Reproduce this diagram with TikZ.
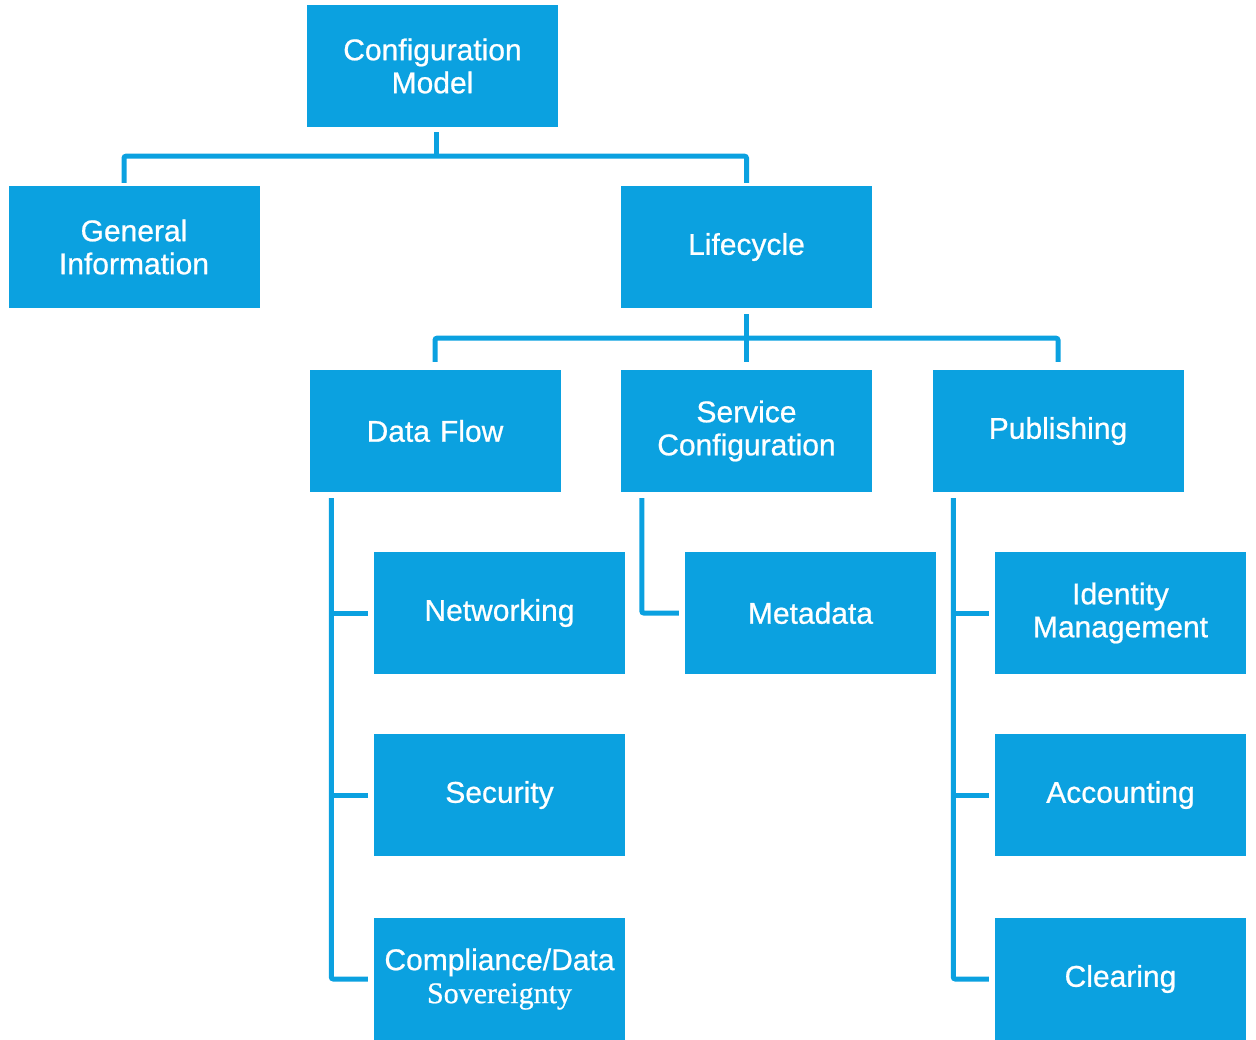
\documentclass[tikz,border=0pt]{standalone}
\usepackage{fontspec}
\setmainfont{Liberation Sans}[FakeBold=0.7]
\newfontfamily\serifsov{Liberation Serif}[FakeBold=0.7]
\definecolor{boxblue}{RGB}{11,161,224}
\begin{document}
\begin{tikzpicture}[x=1pt,y=-1pt,
  box/.style={fill=boxblue, draw=none, minimum width=251pt, minimum height=122pt,
    inner sep=0pt, align=center, text=white, text width=245pt,
    font=\fontsize{30}{33}\selectfont},
  conn/.style={draw=boxblue, line width=5pt, rounded corners=2pt, line cap=butt}]
\useasboundingbox (0,0) rectangle (1256,1040);
\begin{scope}
\clip (0,0) rectangle (1256,1040);
\node[box] (cm) at (432.5,66) {Configuration\\Model};
\node[box] (gi) at (134,247) {General\\Information};
\node[box] (lc) at (746.5,247) {Lifecycle};
\node[box] (df) at (435,431) {Data Flow};
\node[box] (sc) at (746.5,431) {Service\\Configuration};
\node[box] (pb) at (1058,431) {Publishing};
\node[box] (nw) at (499.5,613) {Networking};
\node[box] (se) at (499.5,795) {Security};
\node[box] (cp) at (499.5,979) {Compliance/Data\\{\serifsov Sovereignty}};
\node[box] (md) at (810.5,613) {Metadata};
\node[box] (im) at (1120.5,613) {Identity\\Management};
\node[box] (ac) at (1120.5,795) {Accounting};
\node[box] (cl) at (1120.5,979) {Clearing};
\end{scope}
% level 1
\coordinate (cmj) at ([xshift=3.5pt,yshift=-29pt]cm.south);
\draw[conn] ([xshift=3.5pt,yshift=-5pt]cm.south) -- (cmj);
\draw[conn] ([xshift=-10pt,yshift=3pt]gi.north) |- (cmj) -| ([yshift=3pt]lc.north);
% level 2
\coordinate (lcj) at ([yshift=-30pt]lc.south);
\draw[conn] ([yshift=-6pt]lc.south) -- ([yshift=8pt]sc.north);
\draw[conn] ([yshift=8pt]df.north) |- (lcj) -| ([yshift=8pt]pb.north);
% data flow children
\coordinate (dft) at ([xshift=22pt,yshift=-6pt]df.south west);
\draw[conn] (dft) |- ([xshift=-6pt]cp.west);
\draw[conn] ([xshift=-6pt]nw.west) -- (nw.west -| dft);
\draw[conn] ([xshift=-6pt]se.west) -- (se.west -| dft);
% service configuration child
\coordinate (sct) at ([xshift=21pt,yshift=-6pt]sc.south west);
\draw[conn] (sct) |- ([xshift=-6pt]md.west);
% publishing children
\coordinate (pbt) at ([xshift=21pt,yshift=-6pt]pb.south west);
\draw[conn] (pbt) |- ([xshift=-6pt]cl.west);
\draw[conn] ([xshift=-6pt]im.west) -- (im.west -| pbt);
\draw[conn] ([xshift=-6pt]ac.west) -- (ac.west -| pbt);
\end{tikzpicture}
\end{document}
